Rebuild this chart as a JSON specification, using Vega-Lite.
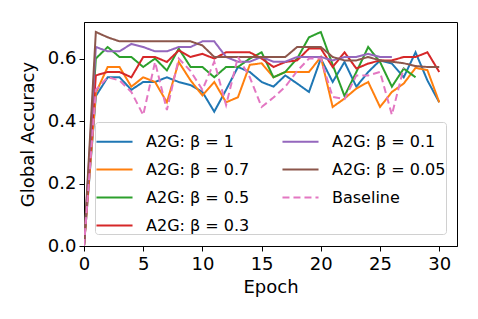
{
  "$schema": "https://vega.github.io/schema/vega-lite/v6.json",
  "autosize": {"type": "none"},
  "padding": {"left": 84, "top": 22, "right": 21, "bottom": 73},
  "width": 373,
  "height": 224,
  "background": "white",
  "config": {
    "font": "DejaVu Sans",
    "view": {"stroke": "black", "strokeWidth": 1},
    "axis": {
      "grid": false,
      "domainColor": "black",
      "tickColor": "black",
      "labelColor": "black",
      "titleColor": "black",
      "labelFont": "DejaVu Sans",
      "titleFont": "DejaVu Sans",
      "labelFontSize": 18,
      "titleFontSize": 18,
      "titleFontWeight": "normal",
      "tickSize": 5,
      "labelPadding": 3
    }
  },
  "datasets": {
    "acc": [
      {"m": "A2G: β = 1", "e": 0, "v": 0}, {"m": "A2G: β = 1", "e": 1, "v": 0.48}, {"m": "A2G: β = 1", "e": 2, "v": 0.54}, {"m": "A2G: β = 1", "e": 3, "v": 0.54}, {"m": "A2G: β = 1", "e": 4, "v": 0.5}, {"m": "A2G: β = 1", "e": 5, "v": 0.525}, {"m": "A2G: β = 1", "e": 6, "v": 0.525}, {"m": "A2G: β = 1", "e": 7, "v": 0.54}, {"m": "A2G: β = 1", "e": 8, "v": 0.525}, {"m": "A2G: β = 1", "e": 9, "v": 0.515}, {"m": "A2G: β = 1", "e": 10, "v": 0.493}, {"m": "A2G: β = 1", "e": 11, "v": 0.43}, {"m": "A2G: β = 1", "e": 12, "v": 0.5}, {"m": "A2G: β = 1", "e": 13, "v": 0.573}, {"m": "A2G: β = 1", "e": 14, "v": 0.557}, {"m": "A2G: β = 1", "e": 15, "v": 0.525}, {"m": "A2G: β = 1", "e": 16, "v": 0.51}, {"m": "A2G: β = 1", "e": 17, "v": 0.546}, {"m": "A2G: β = 1", "e": 18, "v": 0.52}, {"m": "A2G: β = 1", "e": 19, "v": 0.493}, {"m": "A2G: β = 1", "e": 20, "v": 0.6}, {"m": "A2G: β = 1", "e": 21, "v": 0.525}, {"m": "A2G: β = 1", "e": 22, "v": 0.589}, {"m": "A2G: β = 1", "e": 23, "v": 0.51}, {"m": "A2G: β = 1", "e": 24, "v": 0.557}, {"m": "A2G: β = 1", "e": 25, "v": 0.594}, {"m": "A2G: β = 1", "e": 26, "v": 0.584}, {"m": "A2G: β = 1", "e": 27, "v": 0.54}, {"m": "A2G: β = 1", "e": 28, "v": 0.62}, {"m": "A2G: β = 1", "e": 29, "v": 0.53}, {"m": "A2G: β = 1", "e": 30, "v": 0.46},
      {"m": "A2G: β = 0.7", "e": 0, "v": 0}, {"m": "A2G: β = 0.7", "e": 1, "v": 0.49}, {"m": "A2G: β = 0.7", "e": 2, "v": 0.573}, {"m": "A2G: β = 0.7", "e": 3, "v": 0.573}, {"m": "A2G: β = 0.7", "e": 4, "v": 0.51}, {"m": "A2G: β = 0.7", "e": 5, "v": 0.54}, {"m": "A2G: β = 0.7", "e": 6, "v": 0.525}, {"m": "A2G: β = 0.7", "e": 7, "v": 0.46}, {"m": "A2G: β = 0.7", "e": 8, "v": 0.589}, {"m": "A2G: β = 0.7", "e": 9, "v": 0.53}, {"m": "A2G: β = 0.7", "e": 10, "v": 0.482}, {"m": "A2G: β = 0.7", "e": 11, "v": 0.525}, {"m": "A2G: β = 0.7", "e": 12, "v": 0.46}, {"m": "A2G: β = 0.7", "e": 13, "v": 0.476}, {"m": "A2G: β = 0.7", "e": 14, "v": 0.58}, {"m": "A2G: β = 0.7", "e": 15, "v": 0.585}, {"m": "A2G: β = 0.7", "e": 16, "v": 0.54}, {"m": "A2G: β = 0.7", "e": 17, "v": 0.557}, {"m": "A2G: β = 0.7", "e": 18, "v": 0.557}, {"m": "A2G: β = 0.7", "e": 19, "v": 0.557}, {"m": "A2G: β = 0.7", "e": 20, "v": 0.605}, {"m": "A2G: β = 0.7", "e": 21, "v": 0.445}, {"m": "A2G: β = 0.7", "e": 22, "v": 0.472}, {"m": "A2G: β = 0.7", "e": 23, "v": 0.504}, {"m": "A2G: β = 0.7", "e": 24, "v": 0.525}, {"m": "A2G: β = 0.7", "e": 25, "v": 0.445}, {"m": "A2G: β = 0.7", "e": 26, "v": 0.493}, {"m": "A2G: β = 0.7", "e": 27, "v": 0.52}, {"m": "A2G: β = 0.7", "e": 28, "v": 0.57}, {"m": "A2G: β = 0.7", "e": 29, "v": 0.563}, {"m": "A2G: β = 0.7", "e": 30, "v": 0.46},
      {"m": "A2G: β = 0.5", "e": 0, "v": 0}, {"m": "A2G: β = 0.5", "e": 1, "v": 0.6}, {"m": "A2G: β = 0.5", "e": 2, "v": 0.637}, {"m": "A2G: β = 0.5", "e": 3, "v": 0.605}, {"m": "A2G: β = 0.5", "e": 4, "v": 0.605}, {"m": "A2G: β = 0.5", "e": 5, "v": 0.573}, {"m": "A2G: β = 0.5", "e": 6, "v": 0.6}, {"m": "A2G: β = 0.5", "e": 7, "v": 0.562}, {"m": "A2G: β = 0.5", "e": 8, "v": 0.632}, {"m": "A2G: β = 0.5", "e": 9, "v": 0.573}, {"m": "A2G: β = 0.5", "e": 10, "v": 0.573}, {"m": "A2G: β = 0.5", "e": 11, "v": 0.54}, {"m": "A2G: β = 0.5", "e": 12, "v": 0.573}, {"m": "A2G: β = 0.5", "e": 13, "v": 0.573}, {"m": "A2G: β = 0.5", "e": 14, "v": 0.6}, {"m": "A2G: β = 0.5", "e": 15, "v": 0.62}, {"m": "A2G: β = 0.5", "e": 16, "v": 0.54}, {"m": "A2G: β = 0.5", "e": 17, "v": 0.557}, {"m": "A2G: β = 0.5", "e": 18, "v": 0.6}, {"m": "A2G: β = 0.5", "e": 19, "v": 0.668}, {"m": "A2G: β = 0.5", "e": 20, "v": 0.685}, {"m": "A2G: β = 0.5", "e": 21, "v": 0.58}, {"m": "A2G: β = 0.5", "e": 22, "v": 0.48}, {"m": "A2G: β = 0.5", "e": 23, "v": 0.557}, {"m": "A2G: β = 0.5", "e": 24, "v": 0.637}, {"m": "A2G: β = 0.5", "e": 25, "v": 0.589}, {"m": "A2G: β = 0.5", "e": 26, "v": 0.51}, {"m": "A2G: β = 0.5", "e": 27, "v": 0.568}, {"m": "A2G: β = 0.5", "e": 28, "v": 0.54},
      {"m": "A2G: β = 0.3", "e": 0, "v": 0}, {"m": "A2G: β = 0.3", "e": 1, "v": 0.546}, {"m": "A2G: β = 0.3", "e": 2, "v": 0.557}, {"m": "A2G: β = 0.3", "e": 3, "v": 0.557}, {"m": "A2G: β = 0.3", "e": 4, "v": 0.54}, {"m": "A2G: β = 0.3", "e": 5, "v": 0.605}, {"m": "A2G: β = 0.3", "e": 6, "v": 0.605}, {"m": "A2G: β = 0.3", "e": 7, "v": 0.589}, {"m": "A2G: β = 0.3", "e": 8, "v": 0.626}, {"m": "A2G: β = 0.3", "e": 9, "v": 0.605}, {"m": "A2G: β = 0.3", "e": 10, "v": 0.615}, {"m": "A2G: β = 0.3", "e": 11, "v": 0.6}, {"m": "A2G: β = 0.3", "e": 12, "v": 0.62}, {"m": "A2G: β = 0.3", "e": 13, "v": 0.62}, {"m": "A2G: β = 0.3", "e": 14, "v": 0.62}, {"m": "A2G: β = 0.3", "e": 15, "v": 0.6}, {"m": "A2G: β = 0.3", "e": 16, "v": 0.573}, {"m": "A2G: β = 0.3", "e": 17, "v": 0.589}, {"m": "A2G: β = 0.3", "e": 18, "v": 0.594}, {"m": "A2G: β = 0.3", "e": 19, "v": 0.632}, {"m": "A2G: β = 0.3", "e": 20, "v": 0.632}, {"m": "A2G: β = 0.3", "e": 21, "v": 0.573}, {"m": "A2G: β = 0.3", "e": 22, "v": 0.62}, {"m": "A2G: β = 0.3", "e": 23, "v": 0.568}, {"m": "A2G: β = 0.3", "e": 24, "v": 0.584}, {"m": "A2G: β = 0.3", "e": 25, "v": 0.594}, {"m": "A2G: β = 0.3", "e": 26, "v": 0.594}, {"m": "A2G: β = 0.3", "e": 27, "v": 0.605}, {"m": "A2G: β = 0.3", "e": 28, "v": 0.605}, {"m": "A2G: β = 0.3", "e": 29, "v": 0.62}, {"m": "A2G: β = 0.3", "e": 30, "v": 0.557},
      {"m": "A2G: β = 0.1", "e": 0, "v": 0}, {"m": "A2G: β = 0.1", "e": 1, "v": 0.637}, {"m": "A2G: β = 0.1", "e": 2, "v": 0.623}, {"m": "A2G: β = 0.1", "e": 3, "v": 0.623}, {"m": "A2G: β = 0.1", "e": 4, "v": 0.647}, {"m": "A2G: β = 0.1", "e": 5, "v": 0.637}, {"m": "A2G: β = 0.1", "e": 6, "v": 0.623}, {"m": "A2G: β = 0.1", "e": 7, "v": 0.623}, {"m": "A2G: β = 0.1", "e": 8, "v": 0.637}, {"m": "A2G: β = 0.1", "e": 9, "v": 0.637}, {"m": "A2G: β = 0.1", "e": 10, "v": 0.655}, {"m": "A2G: β = 0.1", "e": 11, "v": 0.655}, {"m": "A2G: β = 0.1", "e": 12, "v": 0.605}, {"m": "A2G: β = 0.1", "e": 13, "v": 0.59}, {"m": "A2G: β = 0.1", "e": 14, "v": 0.59}, {"m": "A2G: β = 0.1", "e": 15, "v": 0.605}, {"m": "A2G: β = 0.1", "e": 16, "v": 0.59}, {"m": "A2G: β = 0.1", "e": 17, "v": 0.59}, {"m": "A2G: β = 0.1", "e": 18, "v": 0.605}, {"m": "A2G: β = 0.1", "e": 19, "v": 0.605}, {"m": "A2G: β = 0.1", "e": 20, "v": 0.605}, {"m": "A2G: β = 0.1", "e": 21, "v": 0.594}, {"m": "A2G: β = 0.1", "e": 22, "v": 0.605}, {"m": "A2G: β = 0.1", "e": 23, "v": 0.605}, {"m": "A2G: β = 0.1", "e": 24, "v": 0.615}, {"m": "A2G: β = 0.1", "e": 25, "v": 0.605}, {"m": "A2G: β = 0.1", "e": 26, "v": 0.605},
      {"m": "A2G: β = 0.05", "e": 0, "v": 0}, {"m": "A2G: β = 0.05", "e": 1, "v": 0.685}, {"m": "A2G: β = 0.05", "e": 2, "v": 0.668}, {"m": "A2G: β = 0.05", "e": 3, "v": 0.655}, {"m": "A2G: β = 0.05", "e": 4, "v": 0.655}, {"m": "A2G: β = 0.05", "e": 5, "v": 0.655}, {"m": "A2G: β = 0.05", "e": 6, "v": 0.655}, {"m": "A2G: β = 0.05", "e": 7, "v": 0.655}, {"m": "A2G: β = 0.05", "e": 8, "v": 0.655}, {"m": "A2G: β = 0.05", "e": 9, "v": 0.655}, {"m": "A2G: β = 0.05", "e": 10, "v": 0.642}, {"m": "A2G: β = 0.05", "e": 11, "v": 0.605}, {"m": "A2G: β = 0.05", "e": 12, "v": 0.605}, {"m": "A2G: β = 0.05", "e": 13, "v": 0.605}, {"m": "A2G: β = 0.05", "e": 14, "v": 0.605}, {"m": "A2G: β = 0.05", "e": 15, "v": 0.605}, {"m": "A2G: β = 0.05", "e": 16, "v": 0.605}, {"m": "A2G: β = 0.05", "e": 17, "v": 0.605}, {"m": "A2G: β = 0.05", "e": 18, "v": 0.637}, {"m": "A2G: β = 0.05", "e": 19, "v": 0.637}, {"m": "A2G: β = 0.05", "e": 20, "v": 0.637}, {"m": "A2G: β = 0.05", "e": 21, "v": 0.605}, {"m": "A2G: β = 0.05", "e": 22, "v": 0.594}, {"m": "A2G: β = 0.05", "e": 23, "v": 0.594}, {"m": "A2G: β = 0.05", "e": 24, "v": 0.605}, {"m": "A2G: β = 0.05", "e": 25, "v": 0.594}, {"m": "A2G: β = 0.05", "e": 26, "v": 0.59}, {"m": "A2G: β = 0.05", "e": 27, "v": 0.585}, {"m": "A2G: β = 0.05", "e": 28, "v": 0.576}, {"m": "A2G: β = 0.05", "e": 29, "v": 0.573}, {"m": "A2G: β = 0.05", "e": 30, "v": 0.573},
      {"m": "Baseline", "e": 0, "v": 0}, {"m": "Baseline", "e": 1, "v": 0.5}, {"m": "Baseline", "e": 2, "v": 0.54}, {"m": "Baseline", "e": 3, "v": 0.53}, {"m": "Baseline", "e": 4, "v": 0.493}, {"m": "Baseline", "e": 5, "v": 0.419}, {"m": "Baseline", "e": 6, "v": 0.589}, {"m": "Baseline", "e": 7, "v": 0.435}, {"m": "Baseline", "e": 8, "v": 0.6}, {"m": "Baseline", "e": 9, "v": 0.56}, {"m": "Baseline", "e": 10, "v": 0.5}, {"m": "Baseline", "e": 11, "v": 0.59}, {"m": "Baseline", "e": 12, "v": 0.451}, {"m": "Baseline", "e": 13, "v": 0.605}, {"m": "Baseline", "e": 14, "v": 0.54}, {"m": "Baseline", "e": 15, "v": 0.445}, {"m": "Baseline", "e": 16, "v": 0.475}, {"m": "Baseline", "e": 17, "v": 0.51}, {"m": "Baseline", "e": 18, "v": 0.56}, {"m": "Baseline", "e": 19, "v": 0.6}, {"m": "Baseline", "e": 20, "v": 0.6}, {"m": "Baseline", "e": 21, "v": 0.477}, {"m": "Baseline", "e": 22, "v": 0.47}, {"m": "Baseline", "e": 23, "v": 0.546}, {"m": "Baseline", "e": 24, "v": 0.546}, {"m": "Baseline", "e": 25, "v": 0.557}, {"m": "Baseline", "e": 26, "v": 0.42}, {"m": "Baseline", "e": 27, "v": 0.57}
    ]
  },
  "data": {"name": "acc"},
  "mark": {"type": "line", "strokeWidth": 2, "clip": true},
  "encoding": {
    "x": {
      "field": "e", "type": "quantitative", "title": "Epoch",
      "scale": {"domain": [0, 31.5], "nice": false, "zero": false},
      "axis": {"values": [0, 5, 10, 15, 20, 25, 30], "format": "d", "labelFlush": false, "labelPadding": 4, "titlePadding": 5}
    },
    "y": {
      "field": "v", "type": "quantitative", "title": "Global Accuracy",
      "scale": {"domain": [0, 0.717], "nice": false},
      "axis": {"values": [0, 0.2, 0.4, 0.6], "format": ".1f", "labelFlush": false, "titlePadding": 10}
    },
    "color": {
      "field": "m", "type": "nominal", "title": null,
      "scale": {
        "domain": ["A2G: β = 1", "A2G: β = 0.7", "A2G: β = 0.5", "A2G: β = 0.3", "A2G: β = 0.1", "A2G: β = 0.05", "Baseline"],
        "range": ["#1f77b4", "#ff7f0e", "#2ca02c", "#d62728", "#9467bd", "#8c564b", "#e377c2"]
      },
      "legend": {
        "orient": "none", "legendX": 11, "legendY": 100, "columns": 2,
        "symbolType": "stroke", "symbolSize": 1300, "symbolStrokeWidth": 2,
        "labelFontSize": 16, "labelFont": "DejaVu Sans", "labelColor": "black", "labelOffset": 12,
        "columnPadding": 28, "rowPadding": -1, "padding": 0,
        "strokeColor": "#d0d0d0", "fillColor": "white", "cornerRadius": 3
      }
    },
    "strokeDash": {
      "field": "m", "type": "nominal", "title": null,
      "scale": {
        "domain": ["A2G: β = 1", "A2G: β = 0.7", "A2G: β = 0.5", "A2G: β = 0.3", "A2G: β = 0.1", "A2G: β = 0.05", "Baseline"],
        "range": [[1, 0], [1, 0], [1, 0], [1, 0], [1, 0], [1, 0], [7, 4]]
      }
    }
  }
}
